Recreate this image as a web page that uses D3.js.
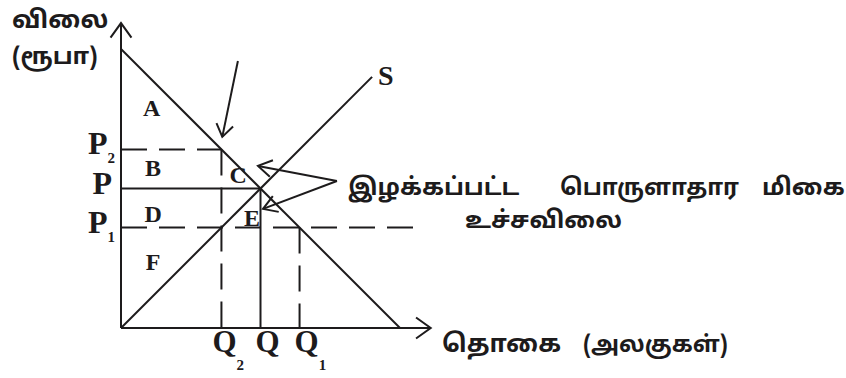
<!DOCTYPE html>
<html>
<head>
<meta charset="utf-8">
<script src="https://cdn.jsdelivr.net/npm/d3@7"></script>
<style>
  body { margin: 0; background: #fff; }
  svg { display: block; }
</style>
</head>
<body>
<div id="chart"></div>
<script>
// Market data (units: quantity / price index)
const demandPoints = [[0, 10], [10, 0]];
const supplyPoints = [[0, 0], [9, 9]];
const priceLabels = ["P", "P", "P"];
const priceSubs = ["2", "", "1"];
const priceValues = [6.4, 5, 3.6];
const quantityLabels = ["Q", "Q", "Q"];
const quantitySubs = ["2", "", "1"];
const quantityValues = [3.6, 5, 6.4];
const areaLabels = ["A", "B", "C", "D", "E", "F"];
const areaQ = [1.1, 1.15, 4.2, 1.15, 4.7, 1.15];
const areaP = [7.9, 5.75, 5.5, 4.1, 3.95, 2.35];

const width = 846;
const height = 378;
const ink = "#1d1b1c";
const serif = "'Liberation Serif', 'Times New Roman', serif";
const tamil = "'Noto Sans Tamil', sans-serif";

const svg = d3
  .select("#chart")
  .append("svg")
  .attr("width", width)
  .attr("height", height);

const x = d3.scaleLinear().domain([0, 10]).range([121, 400]);
const y = d3.scaleLinear().domain([0, 10]).range([328, 49]);

const line = d3.line().x((d) => x(d[0])).y((d) => y(d[1]));

// open "V" arrow head at the end of a segment
function arrow(from, to, len = 15, ang = 0.55) {
  const x1 = x(from[0]), y1 = y(from[1]), x2 = x(to[0]), y2 = y(to[1]);
  const a = Math.atan2(y2 - y1, x2 - x1);
  const g = svg.append("g").attr("stroke", ink).attr("stroke-width", 2).attr("fill", "none");
  g.append("line").attr("x1", x1).attr("y1", y1).attr("x2", x2).attr("y2", y2);
  g.append("polyline").attr("points", [
    [x2 - len * Math.cos(a - ang), y2 - len * Math.sin(a - ang)],
    [x2, y2],
    [x2 - len * Math.cos(a + ang), y2 - len * Math.sin(a + ang)],
  ].map((p) => p.join(",")).join(" "));
}

// Axes
arrow([0, 0], [0, 10.93], 18, 0.62);
arrow([0, 0], [11.1, 0], 18, 0.62);

// Guide lines for prices (ceiling & P2 dashed, equilibrium solid)
svg.append("line")
  .attr("x1", x(0)).attr("x2", x(quantityValues[0]))
  .attr("y1", y(priceValues[0])).attr("y2", y(priceValues[0]))
  .attr("stroke", ink).attr("stroke-width", 2).attr("stroke-dasharray", "26,12");
svg.append("line")
  .attr("x1", x(0)).attr("x2", x(quantityValues[1]))
  .attr("y1", y(priceValues[1])).attr("y2", y(priceValues[1]))
  .attr("stroke", ink).attr("stroke-width", 2);
svg.append("line")
  .attr("x1", x(0)).attr("x2", x(10.7))
  .attr("y1", y(priceValues[2])).attr("y2", y(priceValues[2]))
  .attr("stroke", ink).attr("stroke-width", 2).attr("stroke-dasharray", "26,12");

// Guide lines for quantities
svg.append("line")
  .attr("x1", x(quantityValues[0])).attr("x2", x(quantityValues[0]))
  .attr("y1", y(priceValues[0])).attr("y2", y(0))
  .attr("stroke", ink).attr("stroke-width", 2).attr("stroke-dasharray", "26,12");
svg.append("line")
  .attr("x1", x(quantityValues[1])).attr("x2", x(quantityValues[1]))
  .attr("y1", y(priceValues[1])).attr("y2", y(0))
  .attr("stroke", ink).attr("stroke-width", 2);
svg.append("line")
  .attr("x1", x(quantityValues[2])).attr("x2", x(quantityValues[2]))
  .attr("y1", y(priceValues[2])).attr("y2", y(0))
  .attr("stroke", ink).attr("stroke-width", 2).attr("stroke-dasharray", "26,12");

// Demand and supply
svg.append("path").attr("d", line(demandPoints))
  .attr("stroke", ink).attr("stroke-width", 2).attr("fill", "none");
svg.append("path").attr("d", line(supplyPoints))
  .attr("stroke", ink).attr("stroke-width", 2).attr("fill", "none");

// Pointer arrows
arrow([4.19, 9.57], [3.63, 6.85], 15, 0.6);
arrow([7.74, 5.27], [4.91, 5.81], 16, 0.55);
arrow([7.74, 5.27], [5.09, 4.27], 16, 0.55);

// Price labels
const pl = svg.selectAll(".plab").data(priceValues).enter().append("text")
  .attr("class", "plab")
  .attr("x", (d, i) => (priceSubs[i] ? 115 : 112))
  .attr("y", (d) => y(d) + 5)
  .attr("text-anchor", "end")
  .attr("font-family", serif).attr("font-weight", "bold")
  .attr("font-size", 32).attr("fill", ink);
pl.append("tspan").text((d, i) => priceLabels[i]);
pl.append("tspan").attr("font-size", 15).attr("dy", 9).text((d, i) => priceSubs[i]);

// Quantity labels
const ql = svg.selectAll(".qlab").data(quantityValues).enter().append("text")
  .attr("class", "qlab")
  .attr("x", (d, i) => x(d) - (i === 0 ? 9 : 5))
  .attr("y", 352)
  .attr("font-family", serif).attr("font-weight", "bold")
  .attr("font-size", 31).attr("fill", ink);
ql.append("tspan").text((d, i) => quantityLabels[i]);
ql.append("tspan").attr("font-size", 15).attr("dy", 18).text((d, i) => quantitySubs[i]);

// Area labels
svg.selectAll(".alab").data(areaLabels).enter().append("text")
  .attr("class", "alab")
  .attr("x", (d, i) => x(areaQ[i]))
  .attr("y", (d, i) => y(areaP[i]) + 8)
  .attr("text-anchor", "middle")
  .attr("font-family", serif).attr("font-weight", "bold")
  .attr("font-size", 24).attr("fill", ink)
  .text((d) => d);

// Supply label
svg.append("text")
  .attr("x", x(9) + 6).attr("y", y(9) + 8)
  .attr("font-family", serif).attr("font-weight", "bold")
  .attr("font-size", 28).attr("fill", ink)
  .text("S");

// Tamil captions
function tamilText(t, tx, ty, size = 24) {
  svg.append("text")
    .attr("x", tx).attr("y", ty)
    .attr("font-family", tamil).attr("font-weight", 700)
    .attr("font-size", size).attr("fill", ink)
    .text(t);
}
tamilText("விலை", 12, 28, 25);
tamilText("(ரூபா)", 12, 64, 24);
tamilText("இழக்கப்பட்ட", 348, 195, 24);
tamilText("பொருளாதார", 560, 195, 23);
tamilText("மிகை", 762, 195, 24);
tamilText("உச்சவிலை", 465, 228, 24);
tamilText("தொகை", 442, 352, 25);
tamilText("(அலகுகள்)", 583, 352, 23);
</script>
</body>
</html>
